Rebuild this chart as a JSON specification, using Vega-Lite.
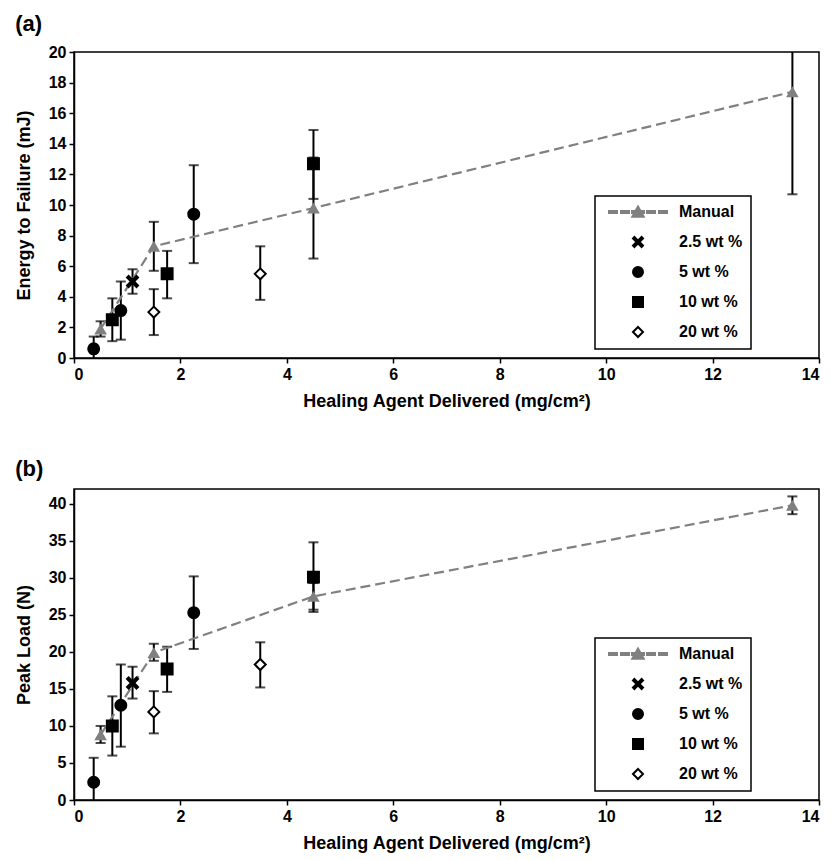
{
  "$schema": "https://vega.github.io/schema/vega-lite/v6.json",
  "background": "white",
  "padding": {"left": 14, "top": 12, "right": 8, "bottom": 5},
  "spacing": 46,
  "data": {"values": [
    {"panel": "a", "series": "Manual", "x": 0.5, "y": 1.9, "lo": 1.4, "hi": 2.4},
    {"panel": "a", "series": "Manual", "x": 1.5, "y": 7.3, "lo": 5.7, "hi": 8.9},
    {"panel": "a", "series": "Manual", "x": 4.5, "y": 9.8, "lo": 6.5, "hi": 13.1},
    {"panel": "a", "series": "Manual", "x": 13.5, "y": 17.4, "lo": 10.7, "hi": 24.1},
    {"panel": "a", "series": "2.5 wt %", "x": 1.1, "y": 5.0, "lo": 4.2, "hi": 5.8},
    {"panel": "a", "series": "5 wt %", "x": 0.37, "y": 0.6, "lo": -0.2, "hi": 1.4},
    {"panel": "a", "series": "5 wt %", "x": 0.88, "y": 3.1, "lo": 1.2, "hi": 5.0},
    {"panel": "a", "series": "5 wt %", "x": 2.25, "y": 9.4, "lo": 6.2, "hi": 12.6},
    {"panel": "a", "series": "10 wt %", "x": 0.72, "y": 2.5, "lo": 1.1, "hi": 3.9},
    {"panel": "a", "series": "10 wt %", "x": 1.75, "y": 5.5, "lo": 3.9, "hi": 7.0},
    {"panel": "a", "series": "10 wt %", "x": 4.5, "y": 12.7, "lo": 10.4, "hi": 14.9},
    {"panel": "a", "series": "20 wt %", "x": 1.5, "y": 3.0, "lo": 1.5, "hi": 4.5},
    {"panel": "a", "series": "20 wt %", "x": 3.5, "y": 5.5, "lo": 3.8, "hi": 7.3},
    {"panel": "b", "series": "Manual", "x": 0.5, "y": 8.8, "lo": 7.7, "hi": 10.0},
    {"panel": "b", "series": "Manual", "x": 1.5, "y": 19.9, "lo": 18.8, "hi": 21.1},
    {"panel": "b", "series": "Manual", "x": 4.5, "y": 27.5, "lo": 25.7, "hi": 29.3},
    {"panel": "b", "series": "Manual", "x": 13.5, "y": 39.8, "lo": 38.6, "hi": 41.0},
    {"panel": "b", "series": "2.5 wt %", "x": 1.1, "y": 15.8, "lo": 13.7, "hi": 18.0},
    {"panel": "b", "series": "5 wt %", "x": 0.37, "y": 2.4, "lo": -0.9, "hi": 5.7},
    {"panel": "b", "series": "5 wt %", "x": 0.88, "y": 12.8, "lo": 7.2, "hi": 18.3},
    {"panel": "b", "series": "5 wt %", "x": 2.25, "y": 25.3, "lo": 20.4, "hi": 30.2},
    {"panel": "b", "series": "10 wt %", "x": 0.72, "y": 10.0, "lo": 6.0, "hi": 14.0},
    {"panel": "b", "series": "10 wt %", "x": 1.75, "y": 17.7, "lo": 14.6, "hi": 20.7},
    {"panel": "b", "series": "10 wt %", "x": 4.5, "y": 30.1, "lo": 25.4, "hi": 34.8},
    {"panel": "b", "series": "20 wt %", "x": 1.5, "y": 11.9, "lo": 9.0, "hi": 14.7},
    {"panel": "b", "series": "20 wt %", "x": 3.5, "y": 18.3, "lo": 15.2, "hi": 21.3}
  ]},
  "config": {
    "font": "Liberation Sans",
    "view": {"stroke": "black", "strokeWidth": 1.5},
    "axis": {
      "domainColor": "black", "domainWidth": 1.5, "tickColor": "black", "tickWidth": 1.5, "tickSize": 5,
      "labelFont": "Liberation Sans", "labelFontWeight": "bold", "labelFontSize": 16, "labelColor": "black", "labelPadding": 3,
      "titleFont": "Liberation Sans", "titleFontWeight": "bold", "titleFontSize": 18, "titleColor": "black", "grid": false,
      "labelOverlap": false
    },
    "legend": {
      "orient": "none", "strokeColor": "black", "strokeWidth": 1.5, "padding": 8, "fillColor": "white",
      "symbolSize": 100, "symbolOffset": 27, "labelOffset": 33, "symbolStrokeWidth": 2,
      "labelFont": "Liberation Sans", "labelFontWeight": "bold", "labelFontSize": 16, "labelColor": "black",
      "rowPadding": 12, "title": null
    },
    "title": {"font": "Liberation Sans", "fontWeight": "bold", "fontSize": 22, "color": "black", "anchor": "start", "frame": "bounds", "offset": 8}
  },
  "resolve": {
    "scale": {"shape": "independent", "fill": "independent", "stroke": "independent"},
    "legend": {"shape": "independent", "fill": "independent", "stroke": "independent"}
  },
  "vconcat": [
    {
      "title": "(a)",
      "width": 745, "height": 306,
      "transform": [{"filter": "datum.panel === 'a'"}],
      "encoding": {
        "x": {"field": "x", "type": "quantitative", "title": "Healing Agent Delivered (mg/cm²)",
              "scale": {"domain": [0, 14], "nice": false},
              "axis": {"values": [0, 2, 4, 6, 8, 10, 12, 14], "titlePadding": 10}}
      },
      "layer": [
        {"mark": {"type": "rule", "color": "black", "strokeWidth": 2, "clip": true},
         "encoding": {"y": {"field": "lo", "type": "quantitative", "title": "Energy to Failure (mJ)", "scale": {"domain": [0, 20], "nice": false}, "axis": {"values": [0, 2, 4, 6, 8, 10, 12, 14, 16, 18, 20], "titlePadding": 15}}, "y2": {"field": "hi"}}},
        {"mark": {"type": "tick", "orient": "horizontal", "color": "black", "size": 10, "thickness": 2, "clip": true},
         "encoding": {"y": {"field": "lo", "type": "quantitative", "title": "Energy to Failure (mJ)", "scale": {"domain": [0, 20], "nice": false}, "axis": {"values": [0, 2, 4, 6, 8, 10, 12, 14, 16, 18, 20], "titlePadding": 15}}}},
        {"mark": {"type": "tick", "orient": "horizontal", "color": "black", "size": 10, "thickness": 2, "clip": true},
         "encoding": {"y": {"field": "hi", "type": "quantitative", "title": "Energy to Failure (mJ)", "scale": {"domain": [0, 20], "nice": false}, "axis": {"values": [0, 2, 4, 6, 8, 10, 12, 14, 16, 18, 20], "titlePadding": 15}}}},
        {"transform": [{"filter": "datum.series === 'Manual'"}],
         "mark": {"type": "line", "color": "#808080", "strokeWidth": 2.2, "strokeDash": [10, 5]},
         "encoding": {"y": {"field": "y", "type": "quantitative", "title": "Energy to Failure (mJ)", "scale": {"domain": [0, 20], "nice": false}, "axis": {"values": [0, 2, 4, 6, 8, 10, 12, 14, 16, 18, 20], "titlePadding": 15}}}},
        {"transform": [{"filter": "datum.series === 'Manual'"}],
         "mark": {"type": "point", "shape": "triangle-up", "filled": true, "color": "#808080", "opacity": 1, "size": 160},
         "encoding": {"y": {"field": "y", "type": "quantitative", "title": "Energy to Failure (mJ)", "scale": {"domain": [0, 20], "nice": false}, "axis": {"values": [0, 2, 4, 6, 8, 10, 12, 14, 16, 18, 20], "titlePadding": 15}}}},
        {"transform": [{"filter": "datum.series !== 'Manual'"}],
         "mark": {"type": "point", "size": 120, "strokeWidth": 2, "opacity": 1},
         "encoding": {
           "y": {"field": "y", "type": "quantitative", "title": "Energy to Failure (mJ)", "scale": {"domain": [0, 20], "nice": false}, "axis": {"values": [0, 2, 4, 6, 8, 10, 12, 14, 16, 18, 20], "titlePadding": 15}},
           "shape": {"field": "series", "type": "nominal",
             "scale": {"domain": ["Manual", "2.5 wt %", "5 wt %", "10 wt %", "20 wt %"],
                       "range": ["M-5.8,-0.2H-4.2V0.2H-5.8Z M-3.4,-0.2H-1.8V0.2H-3.4Z M1.8,-0.2H3.4V0.2H1.8Z M4.2,-0.2H5.8V0.2H4.2Z M-1.2,-0.2H1.2V0.2H-1.2Z M0,-1.1L1.15,0.95L-1.15,0.95Z",
                                 "M-1,-0.72L-0.72,-1L0,-0.28L0.72,-1L1,-0.72L0.28,0L1,0.72L0.72,1L0,0.28L-0.72,1L-1,0.72L-0.28,0Z",
                                 "circle", "square", "diamond"]},
             "legend": {"legendX": 521, "legendY": 144, "labelExpr": "datum.label + '           '"}},
           "fill": {"field": "series", "type": "nominal",
             "scale": {"domain": ["Manual", "2.5 wt %", "5 wt %", "10 wt %", "20 wt %"], "range": ["#808080", "black", "black", "black", "white"]},
             "legend": {"legendX": 521, "legendY": 144, "labelExpr": "datum.label + '           '"}},
           "stroke": {"field": "series", "type": "nominal",
             "scale": {"domain": ["Manual", "2.5 wt %", "5 wt %", "10 wt %", "20 wt %"], "range": ["#808080", "black", "black", "black", "black"]},
             "legend": {"legendX": 521, "legendY": 144, "labelExpr": "datum.label + '           '"}}
         }}
      ]
    },
    {
      "title": "(b)",
      "width": 745, "height": 311,
      "transform": [{"filter": "datum.panel === 'b'"}],
      "encoding": {
        "x": {"field": "x", "type": "quantitative", "title": "Healing Agent Delivered (mg/cm²)",
              "scale": {"domain": [0, 14], "nice": false},
              "axis": {"values": [0, 2, 4, 6, 8, 10, 12, 14], "titlePadding": 10}}
      },
      "layer": [
        {"mark": {"type": "rule", "color": "black", "strokeWidth": 2, "clip": true},
         "encoding": {"y": {"field": "lo", "type": "quantitative", "title": "Peak Load (N)", "scale": {"domain": [0, 42], "nice": false}, "axis": {"values": [0, 5, 10, 15, 20, 25, 30, 35, 40], "titlePadding": 15}}, "y2": {"field": "hi"}}},
        {"mark": {"type": "tick", "orient": "horizontal", "color": "black", "size": 10, "thickness": 2, "clip": true},
         "encoding": {"y": {"field": "lo", "type": "quantitative", "title": "Peak Load (N)", "scale": {"domain": [0, 42], "nice": false}, "axis": {"values": [0, 5, 10, 15, 20, 25, 30, 35, 40], "titlePadding": 15}}}},
        {"mark": {"type": "tick", "orient": "horizontal", "color": "black", "size": 10, "thickness": 2, "clip": true},
         "encoding": {"y": {"field": "hi", "type": "quantitative", "title": "Peak Load (N)", "scale": {"domain": [0, 42], "nice": false}, "axis": {"values": [0, 5, 10, 15, 20, 25, 30, 35, 40], "titlePadding": 15}}}},
        {"transform": [{"filter": "datum.series === 'Manual'"}],
         "mark": {"type": "line", "color": "#808080", "strokeWidth": 2.2, "strokeDash": [10, 5]},
         "encoding": {"y": {"field": "y", "type": "quantitative", "title": "Peak Load (N)", "scale": {"domain": [0, 42], "nice": false}, "axis": {"values": [0, 5, 10, 15, 20, 25, 30, 35, 40], "titlePadding": 15}}}},
        {"transform": [{"filter": "datum.series === 'Manual'"}],
         "mark": {"type": "point", "shape": "triangle-up", "filled": true, "color": "#808080", "opacity": 1, "size": 160},
         "encoding": {"y": {"field": "y", "type": "quantitative", "title": "Peak Load (N)", "scale": {"domain": [0, 42], "nice": false}, "axis": {"values": [0, 5, 10, 15, 20, 25, 30, 35, 40], "titlePadding": 15}}}},
        {"transform": [{"filter": "datum.series !== 'Manual'"}],
         "mark": {"type": "point", "size": 120, "strokeWidth": 2, "opacity": 1},
         "encoding": {
           "y": {"field": "y", "type": "quantitative", "title": "Peak Load (N)", "scale": {"domain": [0, 42], "nice": false}, "axis": {"values": [0, 5, 10, 15, 20, 25, 30, 35, 40], "titlePadding": 15}},
           "shape": {"field": "series", "type": "nominal",
             "scale": {"domain": ["Manual", "2.5 wt %", "5 wt %", "10 wt %", "20 wt %"],
                       "range": ["M-5.8,-0.2H-4.2V0.2H-5.8Z M-3.4,-0.2H-1.8V0.2H-3.4Z M1.8,-0.2H3.4V0.2H1.8Z M4.2,-0.2H5.8V0.2H4.2Z M-1.2,-0.2H1.2V0.2H-1.2Z M0,-1.1L1.15,0.95L-1.15,0.95Z",
                                 "M-1,-0.72L-0.72,-1L0,-0.28L0.72,-1L1,-0.72L0.28,0L1,0.72L0.72,1L0,0.28L-0.72,1L-1,0.72L-0.28,0Z",
                                 "circle", "square", "diamond"]},
             "legend": {"legendX": 521, "legendY": 149, "labelExpr": "datum.label + '           '"}},
           "fill": {"field": "series", "type": "nominal",
             "scale": {"domain": ["Manual", "2.5 wt %", "5 wt %", "10 wt %", "20 wt %"], "range": ["#808080", "black", "black", "black", "white"]},
             "legend": {"legendX": 521, "legendY": 149, "labelExpr": "datum.label + '           '"}},
           "stroke": {"field": "series", "type": "nominal",
             "scale": {"domain": ["Manual", "2.5 wt %", "5 wt %", "10 wt %", "20 wt %"], "range": ["#808080", "black", "black", "black", "black"]},
             "legend": {"legendX": 521, "legendY": 149, "labelExpr": "datum.label + '           '"}}
         }}
      ]
    }
  ]
}
